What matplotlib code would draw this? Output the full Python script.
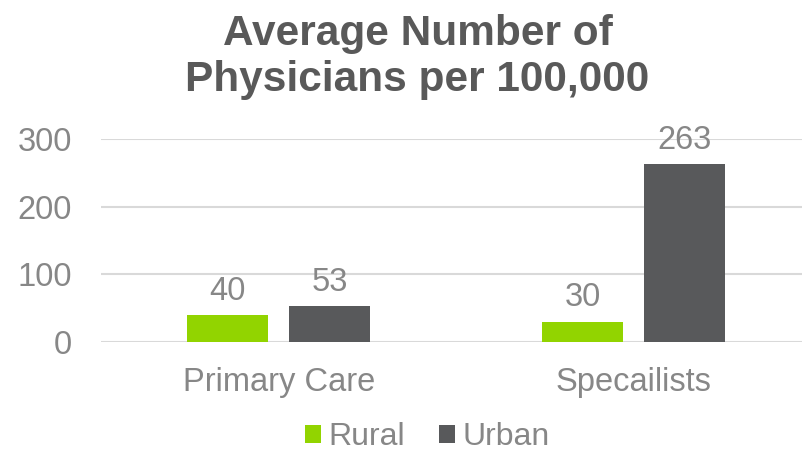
import matplotlib.pyplot as plt
import numpy as np

plt.rcParams['font.family'] = ['Liberation Sans', 'DejaVu Sans']

categories = ['Primary Care', 'Specailists']
rural = [40, 30]
urban = [53, 263]
series_names = ['Rural', 'Urban']
yticks = [0, 100, 200, 300]

green = '#92D400'
dark = '#58595B'
text_gray = '#878787'

fig = plt.figure(figsize=(8.03, 4.53), dpi=100)
ax = fig.add_axes([0.126, 0.245, 0.884, 0.448])

x = np.arange(len(categories))
w = 0.228
gap = 0.06
b1 = ax.bar(x - (w + gap) / 2, rural, w, color=green, label=series_names[0])
b2 = ax.bar(x + (w + gap) / 2, urban, w, color=dark, label=series_names[1])

for bars in (b1, b2):
    for rect in bars:
        h = rect.get_height()
        ax.annotate(f'{h:g}', (rect.get_x() + rect.get_width() / 2, h),
                    xytext=(0, 6), textcoords='offset points',
                    ha='center', va='bottom', fontsize=23.5, color=text_gray)

ax.set_xlim(-0.5, 1.5)
ax.set_ylim(0, 300)
ax.set_yticks(yticks)
ax.set_xticks(x)
ax.set_xticklabels(categories)
ax.tick_params(axis='both', length=0, labelsize=23.5, colors=text_gray)
ax.tick_params(axis='x', pad=18)
ax.tick_params(axis='y', pad=21)
ax.yaxis.grid(True, color='#d9d9d9', linewidth=1.5)
ax.set_axisbelow(True)
for s in ax.spines.values():
    s.set_visible(False)

fig.text(0.52, 0.97, 'Average Number of\nPhysicians per 100,000',
         ha='center', va='top', fontsize=30.5, fontweight='bold',
         color='#595959', linespacing=1.2)

fig.legend(handles=[b1, b2], loc='lower center', bbox_to_anchor=(0.532, -0.062),
           ncol=2, frameon=False, fontsize=23, labelcolor=text_gray,
           handlelength=0.5, handleheight=0.5, handletextpad=0.25, columnspacing=1.05)

fig.savefig('out.png', dpi=100)
